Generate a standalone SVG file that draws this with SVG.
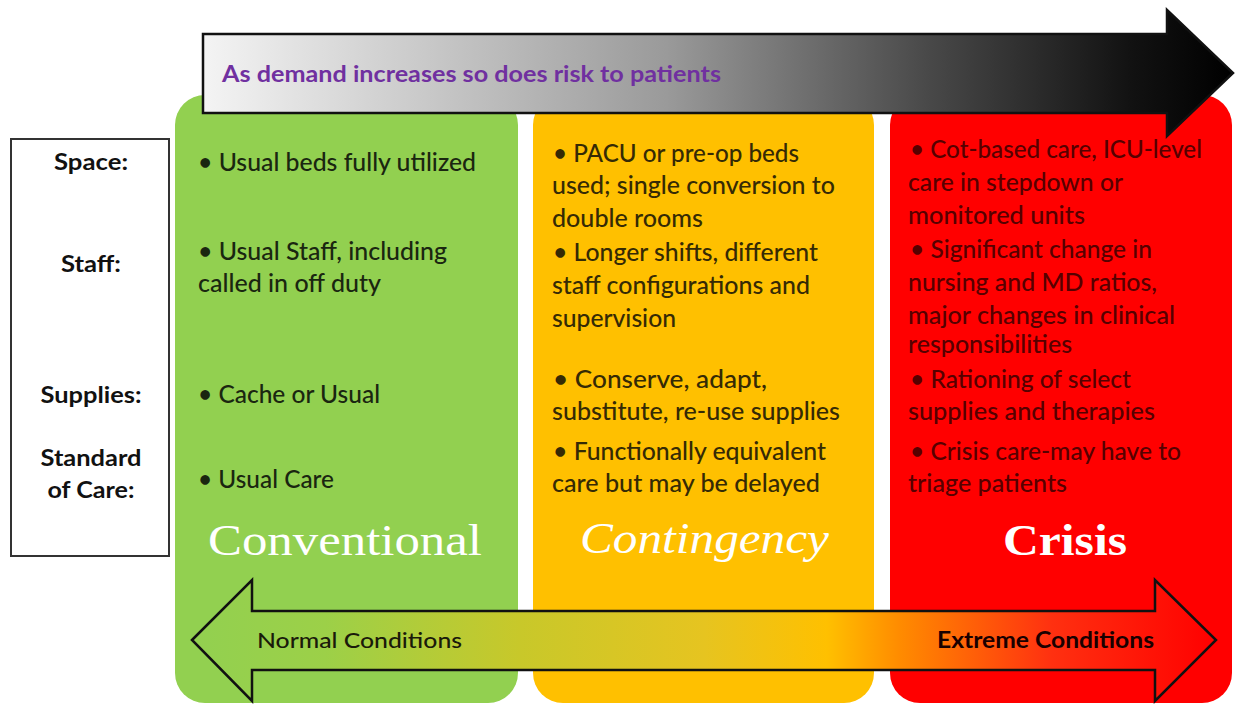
<svg xmlns="http://www.w3.org/2000/svg" width="1235" height="704" viewBox="0 0 1235 704">
<defs>
<linearGradient id="gTop" gradientUnits="userSpaceOnUse" x1="203" y1="0" x2="1233" y2="0">
<stop offset="0" stop-color="#F4F4F4"/>
<stop offset="0.15" stop-color="#D6D6D6"/>
<stop offset="0.45" stop-color="#9A9A9A"/>
<stop offset="0.7" stop-color="#4A4A4A"/>
<stop offset="0.9" stop-color="#121212"/>
<stop offset="1" stop-color="#000"/>
</linearGradient>
<linearGradient id="gBot" gradientUnits="userSpaceOnUse" x1="192" y1="0" x2="1216" y2="0">
<stop offset="0" stop-color="#92D050"/>
<stop offset="0.13" stop-color="#9CD048"/>
<stop offset="0.32" stop-color="#C8C82A"/>
<stop offset="0.5" stop-color="#E6C420"/>
<stop offset="0.62" stop-color="#FFC000"/>
<stop offset="0.69" stop-color="#FF8C00"/>
<stop offset="0.84" stop-color="#FF3010"/>
<stop offset="1" stop-color="#FF0000"/>
</linearGradient>
</defs>
<style>
.body{font-family:Lato,"Liberation Sans",Arial,sans-serif;font-size:24.5px;font-weight:500}
.g{fill:#1A2610}
.o{fill:#352A05}
.r{fill:#560000}
.lbl{font-family:Lato,"Liberation Sans",Arial,sans-serif;font-size:23px;font-weight:bold;fill:#111;text-anchor:middle}
.title{font-family:"Liberation Serif","Times New Roman",serif;font-size:45px;fill:#fff}
.arrowline{stroke:#111;stroke-width:2.5;stroke-linejoin:miter}
</style>
<rect width="1235" height="704" fill="#fff"/>

<g id="conventional">
<rect x="175" y="95" width="343" height="608" rx="30" fill="#92D050"/>
<text class="body g" x="198" y="171" textLength="278" lengthAdjust="spacingAndGlyphs">• Usual beds fully utilized</text>
<text class="body g" x="198" y="260" textLength="249" lengthAdjust="spacingAndGlyphs">• Usual Staff, including</text>
<text class="body g" x="198" y="292" textLength="183" lengthAdjust="spacingAndGlyphs">called in off duty</text>
<text class="body g" x="198" y="403" textLength="182" lengthAdjust="spacingAndGlyphs">• Cache or Usual</text>
<text class="body g" x="198" y="488" textLength="136" lengthAdjust="spacingAndGlyphs">• Usual Care</text>
<text class="title" x="208" y="555" textLength="274" lengthAdjust="spacingAndGlyphs">Conventional</text>
</g>

<g id="contingency">
<rect x="533" y="95" width="341" height="608" rx="30" fill="#FFC000"/>
<text class="body o" x="553" y="162" textLength="246" lengthAdjust="spacingAndGlyphs">• PACU or pre-op beds</text>
<text class="body o" x="552" y="194" textLength="283" lengthAdjust="spacingAndGlyphs">used; single conversion to</text>
<text class="body o" x="552" y="227" textLength="151" lengthAdjust="spacingAndGlyphs">double rooms</text>
<text class="body o" x="553" y="261" textLength="265" lengthAdjust="spacingAndGlyphs">• Longer shifts, different</text>
<text class="body o" x="552" y="294" textLength="258" lengthAdjust="spacingAndGlyphs">staff configurations and</text>
<text class="body o" x="552" y="327" textLength="124" lengthAdjust="spacingAndGlyphs">supervision</text>
<text class="body o" x="553" y="388" textLength="214" lengthAdjust="spacingAndGlyphs">• Conserve, adapt,</text>
<text class="body o" x="552" y="420" textLength="288" lengthAdjust="spacingAndGlyphs">substitute, re-use supplies</text>
<text class="body o" x="553" y="460" textLength="273" lengthAdjust="spacingAndGlyphs">• Functionally equivalent</text>
<text class="body o" x="552" y="492" textLength="268" lengthAdjust="spacingAndGlyphs">care but may be delayed</text>
<text class="title" x="580" y="553" font-style="italic" textLength="249" lengthAdjust="spacingAndGlyphs">Contingency</text>
</g>

<g id="crisis">
<rect x="890" y="95" width="342" height="608" rx="30" fill="#FF0000"/>
<text class="body r" x="910" y="158" textLength="292" lengthAdjust="spacingAndGlyphs">• Cot-based care, ICU-level</text>
<text class="body r" x="908" y="191" textLength="215" lengthAdjust="spacingAndGlyphs">care in stepdown or</text>
<text class="body r" x="908" y="224" textLength="177" lengthAdjust="spacingAndGlyphs">monitored units</text>
<text class="body r" x="910" y="258" textLength="242" lengthAdjust="spacingAndGlyphs">• Significant change in</text>
<text class="body r" x="908" y="291" textLength="249" lengthAdjust="spacingAndGlyphs">nursing and MD ratios,</text>
<text class="body r" x="908" y="324" textLength="267" lengthAdjust="spacingAndGlyphs">major changes in clinical</text>
<text class="body r" x="908" y="353" textLength="164" lengthAdjust="spacingAndGlyphs">responsibilities</text>
<text class="body r" x="910" y="388" textLength="221" lengthAdjust="spacingAndGlyphs">• Rationing of select</text>
<text class="body r" x="908" y="420" textLength="247" lengthAdjust="spacingAndGlyphs">supplies and therapies</text>
<text class="body r" x="910" y="460" textLength="271" lengthAdjust="spacingAndGlyphs">• Crisis care-may have to</text>
<text class="body r" x="908" y="492" textLength="159" lengthAdjust="spacingAndGlyphs">triage patients</text>
<text class="title" x="1003" y="555" font-weight="bold" textLength="124" lengthAdjust="spacingAndGlyphs">Crisis</text>
</g>

<g id="label-box">
<rect x="11" y="139" width="158" height="417" fill="#fff" stroke="#333" stroke-width="2"/>
<text class="lbl" x="91" y="170" textLength="74" lengthAdjust="spacingAndGlyphs">Space:</text>
<text class="lbl" x="91" y="272" textLength="60" lengthAdjust="spacingAndGlyphs">Staff:</text>
<text class="lbl" x="91" y="403" textLength="101" lengthAdjust="spacingAndGlyphs">Supplies:</text>
<text class="lbl" x="91" y="466" textLength="101" lengthAdjust="spacingAndGlyphs">Standard</text>
<text class="lbl" x="91" y="498" textLength="87" lengthAdjust="spacingAndGlyphs">of Care:</text>
</g>

<g id="connectors">
<g id="demand-arrow">
<polygon class="arrowline" points="203,34 1167,34 1167,10 1233,73 1167,136 1167,113 203,113" fill="url(#gTop)"/>
<text x="222" y="82" font-family="Lato,'Liberation Sans',Arial,sans-serif" font-size="22" font-weight="bold" fill="#7030A0" textLength="499" lengthAdjust="spacingAndGlyphs">As demand increases so does risk to patients</text>
</g>
<g id="conditions-arrow">
<polygon class="arrowline" points="192,640 252,580 252,611 1155,611 1155,580 1216,640 1155,701 1155,670 252,670 252,701" fill="url(#gBot)"/>
<text x="257" y="648" font-family="Lato,'Liberation Sans',Arial,sans-serif" font-size="22" font-weight="500" fill="#1a1a0a" textLength="205" lengthAdjust="spacingAndGlyphs">Normal Conditions</text>
<text x="937" y="648" font-family="Lato,'Liberation Sans',Arial,sans-serif" font-size="22" font-weight="bold" fill="#1a0000" textLength="217" lengthAdjust="spacingAndGlyphs">Extreme Conditions</text>
</g>
</g>
</svg>
